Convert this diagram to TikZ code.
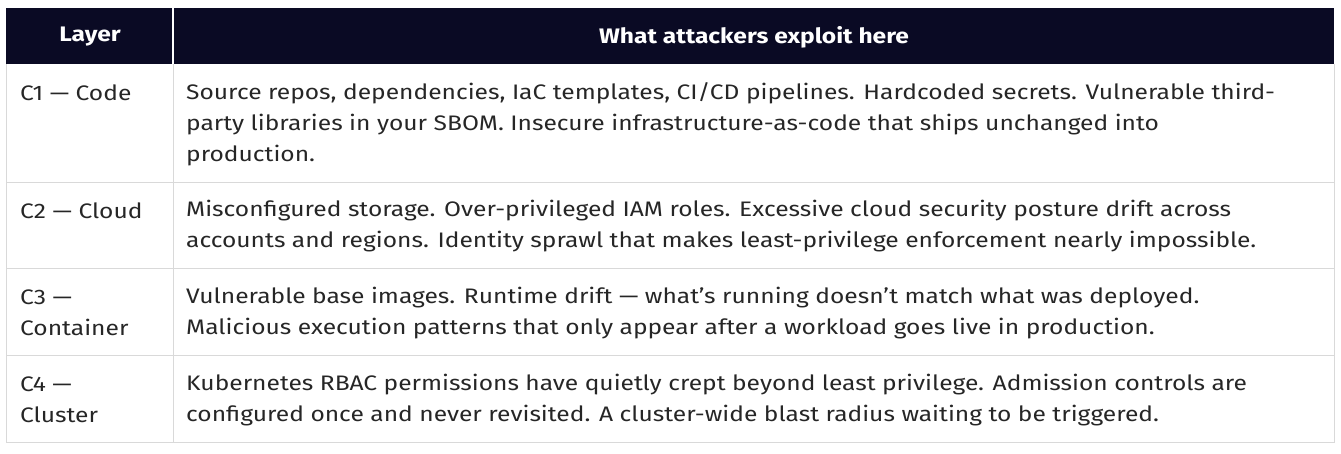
\documentclass[tikz,border=0pt]{standalone}
\usepackage{fontspec}
\setmainfont{Fira Sans}[FakeStretch=1.17]
\usetikzlibrary{positioning}
\definecolor{headbg}{HTML}{0A0A24}
\definecolor{gridc}{HTML}{D9D9D9}
\tikzset{
  head/.style={text=white, font=\fontsize{21}{24}\selectfont\bfseries},
  cell/.style={anchor=west, align=left, inner sep=0pt, text=black!85,
    font=\fontsize{21}{31}\selectfont}
}
\begin{document}
\begin{tikzpicture}[x=1pt,y=-1pt]
  \useasboundingbox (0,0) rectangle (1341,453);
  % header band
  \fill[headbg] (6,8) rectangle (1334,64);
  \draw[white, line width=1.5pt] (173,8) -- (173,64);
  \node[head] (hlayer) at (90,37) {Layer};
  \node[head] (hwhat) at (754,37) {What attackers exploit here};
  % grid
  \draw[gridc, line width=1pt] (6,64) -- (6,442) -- (1334,442) -- (1334,64);
  \draw[gridc, line width=1pt] (173,64) -- (173,442);
  \foreach \y in {182,268,355} \draw[gridc, line width=1pt] (6,\y) -- (1334,\y);
  % rows
  \node[cell] (l1) at (20,93) {C1 — Code};
  \node[cell] (t1) at (186,124) {Source repos, dependencies, IaC templates, CI/CD pipelines. Hardcoded secrets. Vulnerable third-\\party libraries in your SBOM. Insecure infrastructure-as-code that ships unchanged into\\production.};
  \node[cell] (l2) at (20,211) {C2 — Cloud};
  \node[cell] (t2) at (186,226) {Misconfigured storage. Over-privileged IAM roles. Excessive cloud security posture drift across\\accounts and regions. Identity sprawl that makes least-privilege enforcement nearly impossible.};
  \node[cell] (l3) at (20,313) {C3 —\\Container};
  \node[cell] (t3) at (186,313) {Vulnerable base images. Runtime drift — what’s running doesn’t match what was deployed.\\Malicious execution patterns that only appear after a workload goes live in production.};
  \node[cell] (l4) at (20,400) {C4 —\\Cluster};
  \node[cell] (t4) at (186,400) {Kubernetes RBAC permissions have quietly crept beyond least privilege. Admission controls are\\configured once and never revisited. A cluster-wide blast radius waiting to be triggered.};
\end{tikzpicture}
\end{document}
